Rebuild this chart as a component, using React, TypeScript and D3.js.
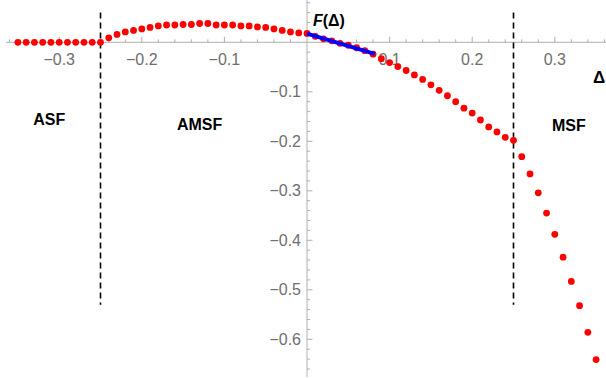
import React from "react";
import * as d3 from "d3";

const deltas = [
  -0.35, -0.34, -0.33, -0.32, -0.31, -0.3, -0.29, -0.28, -0.27, -0.26, -0.25,
  -0.24, -0.23, -0.22, -0.21, -0.2, -0.19, -0.18, -0.17, -0.16, -0.15, -0.14,
  -0.13, -0.12, -0.11, -0.1, -0.09, -0.08, -0.07, -0.06, -0.05, -0.04, -0.03,
  -0.02, -0.01, 0.0, 0.01, 0.02, 0.03, 0.04, 0.05, 0.06, 0.07, 0.08, 0.09, 0.1,
  0.11, 0.12, 0.13, 0.14, 0.15, 0.16, 0.17, 0.18, 0.19, 0.2, 0.21, 0.22, 0.23,
  0.24, 0.25, 0.26, 0.27, 0.28, 0.29, 0.3, 0.31, 0.32, 0.33, 0.34, 0.35,
];
const fValues = [
  0, 0, 0, 0, 0, 0, 0, 0, 0, 0, 0,
  0.009, 0.016, 0.021, 0.024, 0.027, 0.03, 0.033, 0.035, 0.035, 0.036, 0.036,
  0.038, 0.038, 0.035, 0.035, 0.035, 0.033, 0.033, 0.031, 0.03, 0.027, 0.024,
  0.021, 0.019, 0.018, 0.012, 0.007, 0.003, -0.002, -0.006, -0.011, -0.017,
  -0.024, -0.033, -0.041, -0.049, -0.057, -0.066, -0.075, -0.086, -0.097,
  -0.108, -0.12, -0.133, -0.143, -0.157, -0.171, -0.181, -0.192, -0.198,
  -0.231, -0.266, -0.304, -0.345, -0.388, -0.434, -0.483, -0.532, -0.586,
  -0.641,
];
const fitDeltas = [0, 0.082];
const fitValues = [0.0175, -0.0235];

const xTickValues = [-0.3, -0.2, -0.1, 0.1, 0.2, 0.3];
const xTickLabels = ["−0.3", "−0.2", "−0.1", "0.1", "0.2", "0.3"];
const yTickValues = [-0.1, -0.2, -0.3, -0.4, -0.5, -0.6];
const yTickLabels = ["−0.1", "−0.2", "−0.3", "−0.4", "−0.5", "−0.6"];
const boundaries = [-0.25, 0.25];
const regionLabels = ["ASF", "AMSF", "MSF"];
const regionLabelPos = [
  [-0.312, -0.167],
  [-0.13, -0.177],
  [0.317, -0.18],
];

const W = 606;
const H = 378;

export default function App() {
  const x = d3.scaleLinear().domain([-0.25, 0.25]).range([100.5, 513.5]);
  const y = d3.scaleLinear().domain([0, -0.6]).range([42.3, 339.3]);
  const x0 = x(0);
  const y0 = y(0);

  const xMinor = d3.range(-18, 19).map((i) => i * 0.02).filter((v) => Math.abs(Math.round(v * 100)) % 10 !== 0);
  const yMinor = d3.range(-33, 5).map((i) => i * 0.02).filter((v) => Math.abs(Math.round(v * 100)) % 10 !== 0);

  const axisColor = "#b0b0b0";
  const labelColor = "#6e6e6e";
  const font = "'Liberation Sans', Arial, sans-serif";

  const fitLine = d3
    .line<number>()
    .x((_, i) => x(fitDeltas[i]))
    .y((_, i) => y(fitValues[i]));

  return (
    <svg
      width={W}
      height={H}
      style={{ position: "absolute", left: 0, top: 0, background: "#fff" }}
      fontFamily={font}
    >
      {/* axes */}
      <line x1={6} x2={606} y1={y0} y2={y0} stroke={axisColor} strokeWidth={1} />
      <line x1={x0} x2={x0} y1={0} y2={377} stroke={axisColor} strokeWidth={1} />
      {xMinor.map((v, i) => (
        <line key={"xm" + i} x1={x(v)} x2={x(v)} y1={y0} y2={y0 - 3} stroke={axisColor} />
      ))}
      {xTickValues.map((v, i) => (
        <line key={"xM" + i} x1={x(v)} x2={x(v)} y1={y0} y2={y0 - 5.5} stroke={axisColor} />
      ))}
      {yMinor.map((v, i) => (
        <line key={"ym" + i} x1={x0} x2={x0 + 3} y1={y(v)} y2={y(v)} stroke={axisColor} />
      ))}
      {yTickValues.map((v, i) => (
        <line key={"yM" + i} x1={x0} x2={x0 + 5.5} y1={y(v)} y2={y(v)} stroke={axisColor} />
      ))}
      {xTickValues.map((v, i) => (
        <text key={"xl" + i} x={x(v)} y={65} textAnchor="middle" fontSize={16} fill={labelColor}>
          {xTickLabels[i]}
        </text>
      ))}
      {yTickValues.map((v, i) => (
        <text key={"yl" + i} x={301} y={y(v) + 5.5} textAnchor="end" fontSize={16} fill={labelColor}>
          {yTickLabels[i]}
        </text>
      ))}

      {/* dashed boundaries */}
      {boundaries.map((b, i) => (
        <line
          key={"b" + i}
          x1={x(b)}
          x2={x(b)}
          y1={y(0.06)}
          y2={y(-0.53)}
          stroke="#000"
          strokeWidth={1.6}
          strokeDasharray="6,4"
        />
      ))}

      {/* data points */}
      {deltas.map((d, i) => (
        <circle key={"p" + i} cx={x(d)} cy={y(fValues[i])} r={3.4} fill="#ff0000" />
      ))}

      {/* fit line */}
      <path d={fitLine(fitDeltas) || ""} stroke="#0000ff" strokeWidth={4} fill="none" />

      {/* labels */}
      {regionLabels.map((t, i) => (
        <text
          key={"r" + i}
          x={x(regionLabelPos[i][0])}
          y={y(regionLabelPos[i][1])}
          textAnchor="middle"
          fontSize={16}
          fontWeight="bold"
          fill="#000"
        >
          {t}
        </text>
      ))}
      <text x={313} y={26} fontSize={16} fontWeight="bold" fill="#000">
        <tspan fontStyle="italic">F</tspan>
        <tspan>(Δ)</tspan>
      </text>
      <text x={593} y={83} fontSize={17} fontWeight="bold" fill="#000">
        Δ
      </text>
    </svg>
  );
}
